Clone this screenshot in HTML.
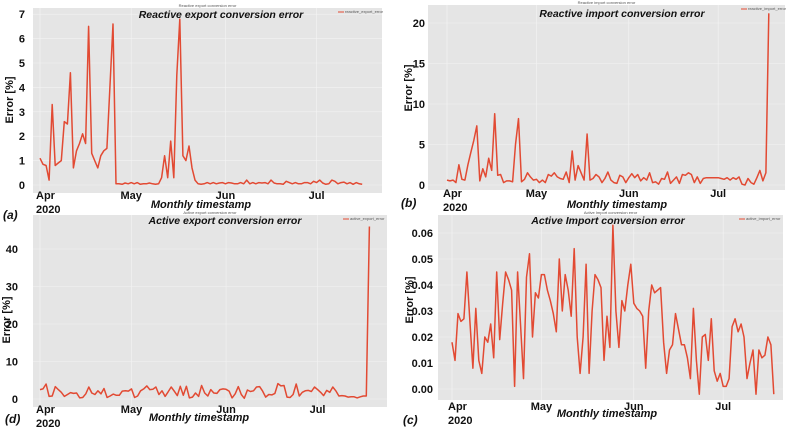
<!DOCTYPE html>
<html><head><meta charset="utf-8">
<style>
html,body{margin:0;padding:0;background:#fff;}
svg{display:block;font-family:"Liberation Sans",sans-serif;}
.tk{font-weight:bold;font-size:11px;fill:#111;}
.ttl{font-weight:bold;font-style:italic;font-size:10.5px;fill:#111;}
.xl{font-weight:bold;font-style:italic;font-size:11px;fill:#111;}
.yl{font-weight:bold;font-size:11px;fill:#111;}
.pl{font-weight:bold;font-style:italic;font-size:12px;fill:#111;}
.tiny{font-size:4px;fill:#555;}
</style></head>
<body>
<svg id="fig" width="791" height="427" viewBox="0 0 791 427"></svg>
<script>
// ---- data (daily values from Apr 1, 2020) ----
const monthLabels = ["Apr","May","Jun","Jul"];
const monthDays = [0,30,61,91];
const reactiveExportValues = [1.1,0.85,0.8,0.2,3.3,0.8,0.9,1.0,2.6,2.5,4.6,0.7,1.4,1.7,2.1,1.7,6.5,1.3,1.0,0.7,1.2,1.4,1.5,4.0,6.6,0.05,0.05,0.03,0.08,0.05,0.1,0.05,0.1,0.03,0.05,0.05,0.08,0.05,0.03,0.05,0.3,1.2,0.3,1.8,0.3,4.5,6.8,1.2,1.0,1.6,0.7,0.2,0.05,0.03,0.05,0.1,0.05,0.1,0.05,0.08,0.1,0.05,0.1,0.08,0.05,0.05,0.1,0.05,0.2,0.05,0.1,0.05,0.1,0.08,0.1,0.05,0.2,0.08,0.05,0.05,0.03,0.15,0.1,0.05,0.1,0.05,0.05,0.1,0.1,0.05,0.15,0.1,0.2,0.08,0.03,0.05,0.2,0.15,0.05,0.1,0.12,0.05,0.1,0.03,0.1,0.05,0.03];
const reactiveExportTicks = [0,1,2,3,4,5,6,7];
const reactiveImportValues = [0.6,0.5,0.6,0.3,2.5,0.7,0.6,2.5,4,5.5,7.3,0.5,2.0,1.0,3.3,1.8,8.8,1.2,1.3,0.3,0.5,0.5,0.4,5,8.2,0.4,0.7,1.5,1.0,0.6,0.7,0.3,0.6,0.3,1.3,1.1,1.5,1.0,0.8,0.7,1.6,0.3,4.2,0.6,2.4,1.5,0.6,6.3,0.6,0.8,1.3,1.0,0.3,0.8,1.6,0.6,0.3,0.2,1.2,1.0,0.3,0.9,1.4,0.9,1.3,0.5,0.9,0.6,1.5,0.3,0.4,0.1,0.8,0.7,1.6,0.2,0.6,1.0,0.2,1.3,1.2,1.5,1.3,0.3,1.0,0.2,0.8,0.9,0.9,0.9,0.9,0.9,0.8,0.7,0.9,0.6,0.9,0.7,1.0,0.1,0.0,0.8,0.3,0.1,0.9,1.8,0.5,1.5,21.2];
const reactiveImportTicks = [0,5,10,15,20];
const activeExportValues = [2.5,2.7,4,0.7,0.8,3.3,2.5,1.8,0.7,1.2,1.7,1.5,1.6,0.3,0.4,1.4,3.2,1.6,1.2,2.2,1.4,2.8,0.4,0.8,1.3,1.0,1.0,2.1,2.2,2.1,2.7,0.4,0.8,2.2,2.7,3.5,2.5,2.6,3.2,1.2,2.2,0.7,1.9,3.2,2.1,0.9,3.4,1.0,3.4,0.3,0.5,1.6,0.7,3.6,1.6,0.8,2.5,1.6,1.5,2.5,2.7,2.6,2.1,0.3,1.4,3.3,1.2,0.2,2.4,2.0,2.2,3.2,3.3,2.1,0.5,1.2,1.1,1.5,4.1,3.5,3.6,0.5,0.4,1.2,4.0,0.8,1.8,2.2,2.3,2.0,3.2,2.5,1.8,0.9,2.3,1.8,3.2,2.2,0.8,0.9,0.8,0.5,0.6,0.6,0.3,0.6,0.8,0.8,46];
const activeExportTicks = [0,10,20,30,40];
const activeImportValues = [0.018,0.011,0.029,0.026,0.027,0.045,0.026,0.008,0.031,0.011,0.006,0.020,0.018,0.025,0.012,0.045,0.019,0.033,0.045,0.042,0.038,0.001,0.045,0.025,0.004,0.043,0.052,0.020,0.037,0.035,0.044,0.044,0.038,0.034,0.029,0.022,0.050,0.030,0.044,0.038,0.028,0.054,0.020,0.006,0.020,0.048,0.006,0.030,0.044,0.042,0.039,0.011,0.028,0.016,0.063,0.030,0.016,0.034,0.030,0.040,0.048,0.033,0.031,0.030,0.028,0.008,0.030,0.040,0.037,0.038,0.039,0.018,0.006,0.015,0.017,0.029,0.023,0.017,0.017,0.012,0.004,0.031,0.011,-0.002,0.020,0.021,0.011,0.027,0.007,0.003,0.006,0.001,0.001,0.004,0.024,0.027,0.022,0.025,0.020,0.004,0.010,0.015,-0.002,0.015,0.012,0.013,0.020,0.017,-0.002];
const activeImportTicks = [0,0.01,0.02,0.03,0.04,0.05,0.06];
const activeImportTickLabels = ["0.00","0.01","0.02","0.03","0.04","0.05","0.06"];

const NS="http://www.w3.org/2000/svg";
const svg=document.getElementById('fig');
function mk(tag,attrs,parent,text){const e=document.createElementNS(NS,tag);for(const k in attrs)e.setAttribute(k,attrs[k]);if(text!==undefined)e.textContent=text;(parent||svg).appendChild(e);return e;}

function panel(cfg,values,ticks,tickLabels){
  const g=mk('g',{});
  
  
  const xs=d=>cfg.x0+d*cfg.ppd;
  const ys=v=>cfg.y0-(v-cfg.ymin)*cfg.unit;
  const bg=mk('rect',{x:cfg.L,y:cfg.T,width:cfg.R-cfg.L,height:cfg.B-cfg.T,fill:'#e5e5e5'},g);
  
  
  ticks.forEach((t,i)=>{
    const y=ys(t);
    mk('line',{x1:cfg.L,x2:cfg.R,y1:y,y2:y,stroke:'#f4f4f4','stroke-width':0.6},g);
    const lb=mk('text',{x:cfg.tx,y:y+4,'text-anchor':'end',class:'tk'},g,tickLabels?tickLabels[i]:String(t));
    
    
  });
  monthDays.forEach((d,i)=>{
    const x=xs(d);
    mk('line',{x1:x,x2:x,y1:cfg.T,y2:cfg.B,stroke:'#f4f4f4','stroke-width':0.6},g);
    const lb=mk('text',{x:x,y:cfg.my,'text-anchor':i===0?'start':'middle',class:'tk'},g,monthLabels[i]);
    if(i===0)lb.setAttribute('x',x-4);
    
    
  });
  const yr=mk('text',{x:xs(0)-4,y:cfg.my+14,class:'tk'},g,'2020');
  
  
  const pts=values.map((v,i)=>xs(i).toFixed(1)+','+ys(v).toFixed(1)).join(' ');
  const ln=mk('polyline',{points:pts,fill:'none',stroke:'#e24a33','stroke-width':1.5,'stroke-linejoin':'round'},g);
  
  
  const st=mk('text',{x:(cfg.L+cfg.R)/2,y:cfg.T-1,'text-anchor':'middle',class:'tiny'},g,cfg.title);
  
  
  const tt=mk('text',{x:cfg.tcx,y:cfg.tty,'text-anchor':'middle',class:'ttl'},g,cfg.title);
  
  
  const lg=mk('g',{},g);
  
  
  mk('line',{x1:cfg.R-44,x2:cfg.R-38,y1:cfg.T+4,y2:cfg.T+4,stroke:'#e24a33','stroke-width':1},lg);
  mk('text',{x:cfg.R-37,y:cfg.T+5,class:'tiny','font-size':3},lg,cfg.legend);
  const xl=mk('text',{x:cfg.xlx,y:cfg.xly,'text-anchor':'middle',class:'xl'},g,'Monthly timestamp');
  
  
  const yl=mk('text',{x:0,y:0,'text-anchor':'middle',class:'yl',transform:`translate(${cfg.ylx},${cfg.yly}) rotate(-90)`},g,'Error [%]');
  
  
  const pl=mk('text',{x:cfg.plx,y:cfg.ply,class:'pl'},g,cfg.panel);
  
  
}

panel({id:'reactive-export',L:33,R:382,T:8,B:193,x0:40,ppd:3.04,y0:185,ymin:0,unit:24.4,tx:25,my:199,
  title:'Reactive export conversion error',legend:'reactive_export_error',tcx:221,tty:18,xlx:201,xly:208,ylx:13,yly:100,plx:3,ply:219,panel:'(a)'},
  reactiveExportValues,reactiveExportTicks);
panel({id:'reactive-import',L:428,R:785,T:5,B:190,x0:447,ppd:2.98,y0:185,ymin:0,unit:8.1,tx:425,my:197,
  title:'Reactive import conversion error',legend:'reactive_import_error',tcx:622,tty:17,xlx:617,xly:208,ylx:412,yly:88,plx:401,ply:207,panel:'(b)'},
  reactiveImportValues,reactiveImportTicks);
panel({id:'active-export',L:33,R:387,T:215,B:407,x0:40,ppd:3.05,y0:399,ymin:0,unit:3.75,tx:18,my:413,
  title:'Active export conversion error',legend:'active_export_error',tcx:225,tty:224,xlx:199,xly:421,ylx:10,yly:320,plx:5,ply:423,panel:'(d)'},
  activeExportValues,activeExportTicks);
panel({id:'active-import',L:438,R:783,T:215,B:400,x0:452,ppd:2.98,y0:389,ymin:0,unit:2600,tx:433,my:410,
  title:'Active Import conversion error',legend:'active_import_error',tcx:608,tty:224,xlx:607,xly:417,ylx:413,yly:300,plx:403,ply:424,panel:'(c)'},
  activeImportValues,activeImportTicks,activeImportTickLabels);
</script>
</body></html>
